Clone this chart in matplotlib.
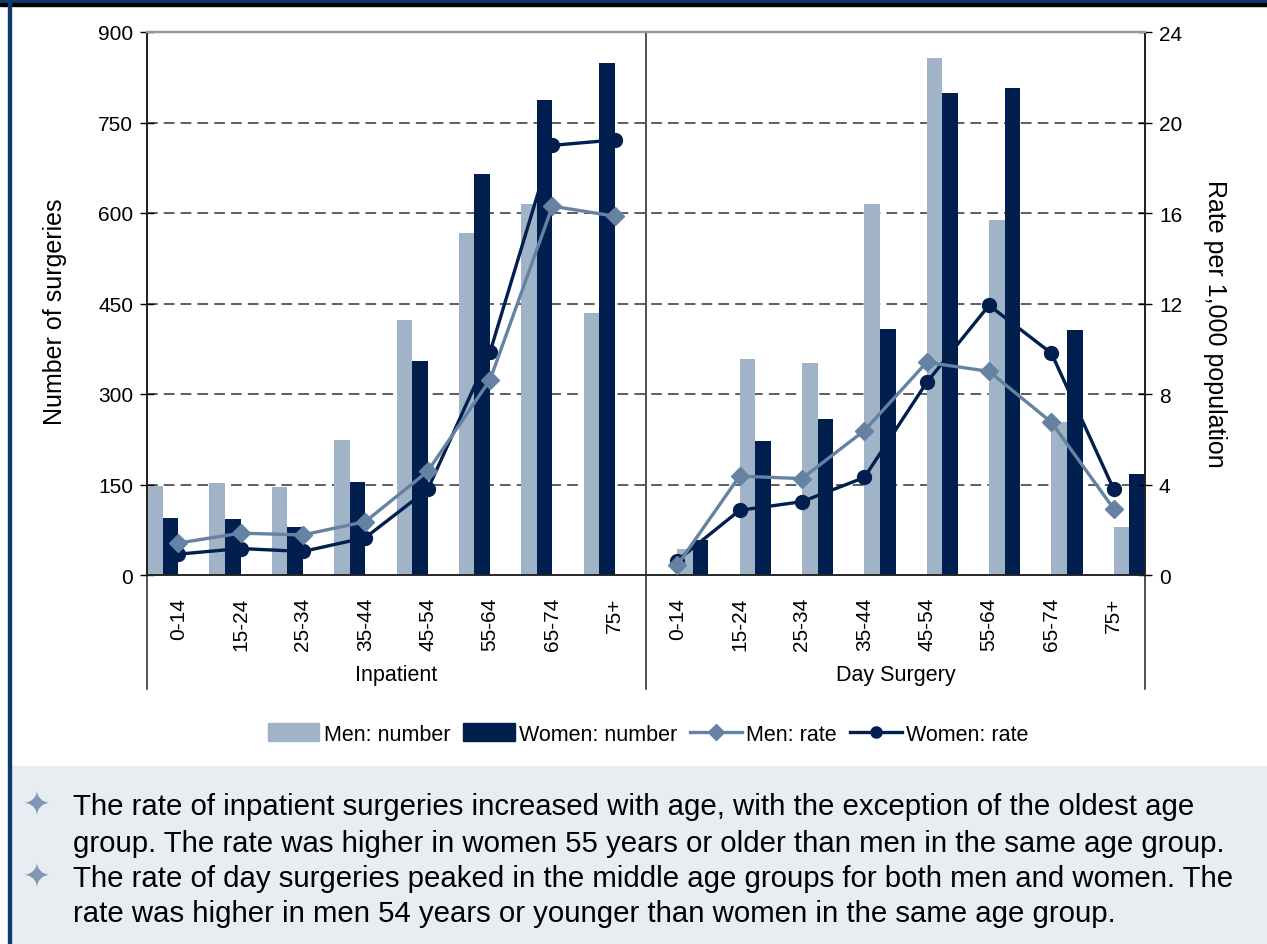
import matplotlib.pyplot as plt
import matplotlib.patches as mpatches
from matplotlib.lines import Line2D
import numpy as np

plt.rcParams['font.family'] = ['Liberation Sans', 'DejaVu Sans']

# Values
age_groups = ['0-14', '15-24', '25-34', '35-44', '45-54', '55-64', '65-74', '75+']
settings = ['Inpatient', 'Day Surgery']

inp_men_num = [148, 152, 146, 224, 423, 567, 615, 435]
inp_women_num = [95, 92, 80, 154, 355, 665, 787, 849]
inp_men_rate = [1.41, 1.85, 1.77, 2.36, 4.58, 8.63, 16.3, 15.86]
inp_women_rate = [0.92, 1.17, 1.04, 1.65, 3.78, 9.86, 18.99, 19.23]

day_men_num = [43, 358, 352, 615, 857, 589, 253, 80]
day_women_num = [58, 222, 259, 408, 799, 808, 406, 167]
day_men_rate = [0.43, 4.37, 4.26, 6.38, 9.40, 9.00, 6.75, 2.92]
day_women_rate = [0.64, 2.86, 3.24, 4.31, 8.51, 11.92, 9.80, 3.78]

bullets = [
    ["The rate of inpatient surgeries increased with age, with the exception of the oldest age",
     "group. The rate was higher in women 55 years or older than men in the same age group."],
    ["The rate of day surgeries peaked in the middle age groups for both men and women. The",
     "rate was higher in men 54 years or younger than women in the same age group."],
]

MEN_BAR = '#a1b3c7'
WOMEN_BAR = '#001f4f'
MEN_LINE = '#6582a3'
WOMEN_LINE = '#001f4f'
FRAME = '#0f3a6c'
PANEL = '#e7edf1'

W, H = 1267, 945
fig = plt.figure(figsize=(W / 100, H / 100), dpi=100)


def fx(px):
    return px / W


def fy(py):
    return 1 - py / H


# background panel + frame
fig.patches.append(mpatches.Rectangle((fx(11), 0), 1 - fx(11), fy(767), transform=fig.transFigure,
                                      color=PANEL, zorder=0))
fig.patches.append(mpatches.Rectangle((0, fy(4)), 1, fy(0) - fy(4), transform=fig.transFigure,
                                      color=FRAME, zorder=0))
fig.patches.append(mpatches.Rectangle((0, fy(6.5)), 1, fy(4) - fy(6.5), transform=fig.transFigure,
                                      color='black', zorder=0))
fig.patches.append(mpatches.Rectangle((fx(8), 0), fx(3), 1, transform=fig.transFigure,
                                      color=FRAME, zorder=0))

ax = fig.add_axes([fx(147), fy(576), fx(998), fy(33) - fy(576)])
ax2 = ax.twinx()

n = len(age_groups)
x_inp = np.arange(n)
x_day = np.arange(n) + n
w = 0.25

ax.bar(x_inp - 0.375, inp_men_num, w, color=MEN_BAR, zorder=2)
ax.bar(x_inp - 0.125, inp_women_num, w, color=WOMEN_BAR, zorder=2)
ax.bar(x_day + 0.125, day_men_num, w, color=MEN_BAR, zorder=2)
ax.bar(x_day + 0.375, day_women_num, w, color=WOMEN_BAR, zorder=2)

for xs, mr, wr in [(x_inp, inp_men_rate, inp_women_rate), (x_day, day_men_rate, day_women_rate)]:
    ax2.plot(xs, wr, color=WOMEN_LINE, lw=2.4, marker='o', ms=10, zorder=3)
    ax2.plot(xs, mr, color=MEN_LINE, lw=2.4, marker='D', ms=9, zorder=4)

ax.set_xlim(-0.5, 2 * n - 0.5)
ax.set_ylim(0, 900)
ax2.set_ylim(0, 24)
ax.set_yticks(np.arange(0, 901, 150))
ax2.set_yticks(np.arange(0, 25, 4))
for v in range(150, 900, 150):
    ax.axhline(v, color='#333333', lw=1.1, ls=(0, (7, 4)), zorder=1)

ax.set_xticks([])
for a in (ax, ax2):
    a.tick_params(axis='y', direction='inout', length=10, width=1, labelsize=15, pad=5)
    a.spines['top'].set_color('#999999')
    a.spines['top'].set_linewidth(1.6)
    for s in ('left', 'right', 'bottom'):
        a.spines[s].set_color('#222222')
        a.spines[s].set_linewidth(1.1)

ax.set_ylabel('Number of surgeries', fontsize=18, va='center')
ax.yaxis.set_label_coords(-(147 - 55) / 998, (576 - 312) / 543)
ax2.set_ylabel('Rate per 1,000 population', fontsize=18, rotation=270, va='center')
ax2.yaxis.set_label_coords(1 + (1215 - 1145) / 998, (576 - 324) / 543)

# group dividers extending below the axis
trans = ax.get_xaxis_transform()
bottom_frac = (576 - 690) / 543
for xv in (-0.5, n - 0.5, 2 * n - 0.5):
    ax.plot([xv, xv], [bottom_frac, 1], color='#222222', lw=1.1, transform=trans, clip_on=False, zorder=5)

# category labels
for i, lab in enumerate(age_groups * 2):
    ax.text(i, -22 / 543, lab, transform=trans, rotation=90, ha='center', va='top', fontsize=15)
for j, s in enumerate(settings):
    ax.text(j * n + (n - 1) / 2, -(676 - 576) / 543, s, transform=trans, ha='center', va='center',
            fontsize=15.5)

handles = [
    mpatches.Patch(color=MEN_BAR, label='Men: number'),
    mpatches.Patch(color=WOMEN_BAR, label='Women: number'),
    Line2D([], [], color=MEN_LINE, lw=2.4, marker='D', ms=8, label='Men: rate'),
    Line2D([], [], color=WOMEN_LINE, lw=2.4, marker='o', ms=8, label='Women: rate'),
]
fig.legend(handles=handles, loc='center', bbox_to_anchor=(fx(648), fy(735)), ncol=4, frameon=False,
           fontsize=15.5, handlelength=2.4, handleheight=0.9, handletextpad=0.2, columnspacing=0.6)

# bullet notes
line_y = [[806, 843], [878, 913]]
for ys, lines in zip(line_y, bullets):
    fig.text(fx(37), fy(ys[0]), '\u2726', color='#8097b5', fontsize=24, ha='center', va='center',
             family='DejaVu Sans')
    for yy, txt in zip(ys, lines):
        fig.text(fx(73), fy(yy + 1), txt, fontsize=21.2, ha='left', va='center')

fig.savefig('out.png', dpi=100)
